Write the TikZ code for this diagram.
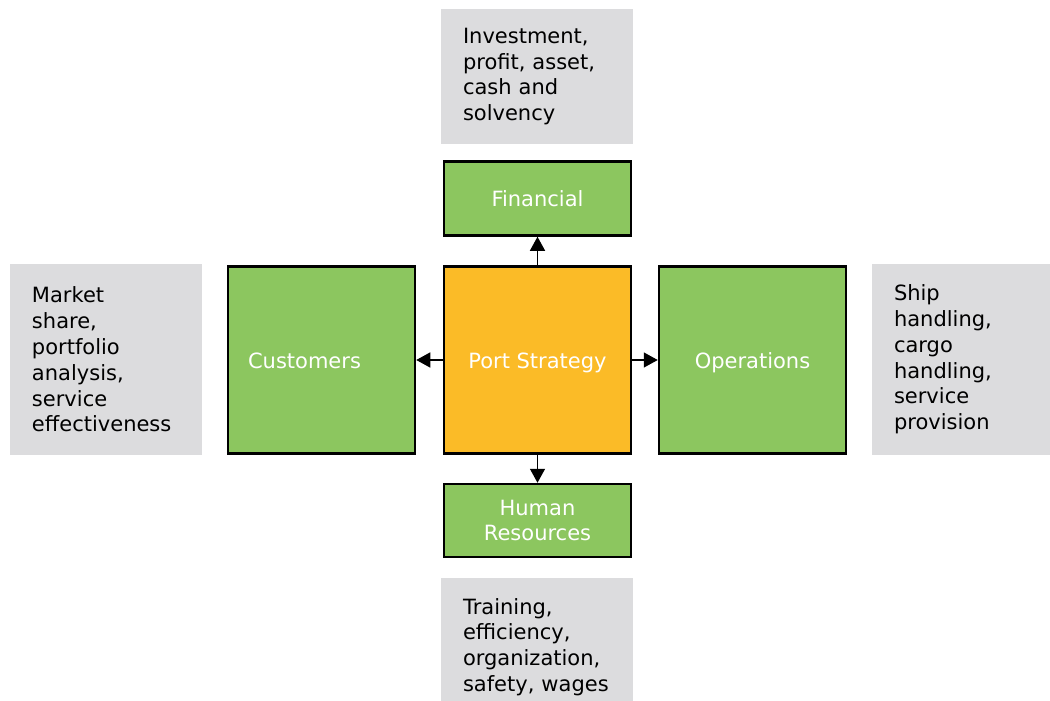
\documentclass[tikz,border=0pt]{standalone}
\usepackage{fontspec}
\setmainfont{DejaVu Sans}
\usetikzlibrary{arrows.meta}
\definecolor{boxgreen}{RGB}{140,198,95}
\definecolor{boxorange}{RGB}{251,187,39}
\definecolor{boxgrey}{RGB}{220,220,222}

\begin{document}
\begin{tikzpicture}[x=1bp,y=-1bp,
    every node/.style={font=\fontsize{21bp}{25.8bp}\selectfont},
    greenbox/.style={draw=black,line width=2.5bp,fill=boxgreen,text=white,
      minimum width=187bp,minimum height=#1,align=center,inner sep=0pt},
    oneline/.style={text height=20bp,text depth=3.6bp},
    corebox/.style={greenbox=187bp,oneline,fill=boxorange},
    notebox/.style={fill=boxgrey,text=black,text width=148bp,inner xsep=22bp,
      inner ysep=0pt,minimum height=#1,align=left},
    flow/.style={line width=1.4bp,-{Triangle[width=15bp,length=14bp]}}
  ]
  \clip (0,0) rectangle (1050,701);
  \fill[white] (0,0) rectangle (1050,701);

  % perspectives
  \node[corebox] (strategy) at (537.5,360) {Port Strategy};
  \node[greenbox=74bp,oneline] (financial) at (537.5,198.5) {Financial};
  \node[greenbox=187bp,oneline] (customers) at (321.5,360)
    {Customers\hspace*{34bp}};
  \node[greenbox=187bp,oneline] (operations) at (752.5,360) {Operations};
  \node[greenbox=73bp] (hr) at (537.5,520.5) {Human\\Resources};

  % measures
  \node[notebox=135bp] (finnote) at (537,76.5)
    {Investment,\\profit, asset,\\cash and\\solvency};
  \node[notebox=191bp] (custnote) at (106,359.5)
    {Market\\share,\\portfolio\\analysis,\\service\\effectiveness};
  \node[notebox=191bp] (opnote) at (968,359.5)
    {Ship\\handling,\\cargo\\handling,\\service\\provision};
  \node[notebox=138bp] (hrnote) at (537,647)
    {Training,\\efficiency,\\organization,\\safety, wages};

  \draw[flow] (strategy) -- (financial);
  \draw[flow] (strategy) -- (customers);
  \draw[flow] (strategy) -- (operations);
  \draw[flow] (strategy) -- (hr);
\end{tikzpicture}
\end{document}
